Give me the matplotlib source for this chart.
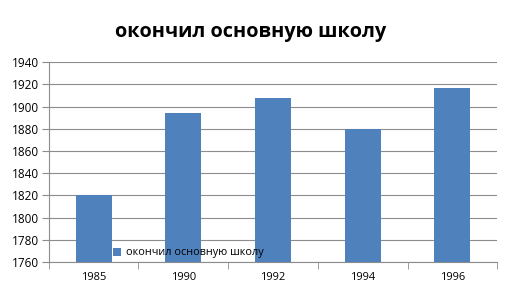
import numpy as np
import matplotlib.pyplot as plt

plt.rcParams['font.family'] = ['Open Sans', 'DejaVu Sans']

# данные
years = ['1985', '1990', '1992', '1994', '1996']
values = [1820, 1894, 1908, 1880, 1917]
series_name = 'окончил основную школу'

bar_color = '#4f81bd'
grid_color = '#8c8c8c'

fig = plt.figure(figsize=(5.07, 2.90), dpi=100)
ax = fig.add_axes([48.7 / 507, 1 - 262 / 290, (497.3 - 48.7) / 507, (262 - 62.3) / 290])

x = np.arange(len(years))
ax.bar(x, np.array(values) - 1760, bottom=1760, width=0.4, color=bar_color, zorder=3,
       label=series_name)

ax.set_xlim(-0.5, len(years) - 0.5)
ax.set_ylim(1760, 1940)
ax.set_yticks(np.arange(1760, 1941, 20))
ax.set_xticks(x)
ax.set_xticklabels(years)
ax.set_xticks(np.arange(-0.5, len(years), 1), minor=True)
ax.tick_params(axis='x', which='major', length=0, pad=7, labelsize=8)
ax.tick_params(axis='x', which='minor', length=5, color=grid_color, direction='out')
ax.tick_params(axis='y', length=5, color=grid_color, labelsize=8.5, pad=2)
ax.grid(axis='y', color=grid_color, linewidth=0.8, zorder=0)

for s in ['top', 'right']:
    ax.spines[s].set_visible(False)
for s in ['left', 'bottom']:
    ax.spines[s].set_color(grid_color)
    ax.spines[s].set_linewidth(0.8)

ax.legend(loc='center', bbox_to_anchor=(188 / 507, 1 - 253 / 290), bbox_transform=fig.transFigure,
          frameon=False, fontsize=7.8, handlelength=0.8, handleheight=0.8, handletextpad=0.4,
          borderpad=0, borderaxespad=0)

fig.text(251 / 507, 1 - 32 / 290, series_name, ha='center', va='center',
         fontsize=14.3, fontweight='bold')

fig.savefig('out.png', dpi=100)
